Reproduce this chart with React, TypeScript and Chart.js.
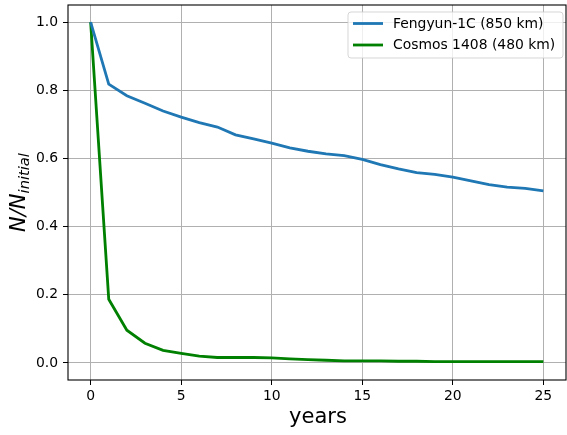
import React, { useEffect, useRef } from "react";
import { Chart, registerables } from "chart.js";

Chart.register(...registerables);

const years = [0, 1, 2, 3, 4, 5, 6, 7, 8, 9, 10, 11, 12, 13, 14, 15, 16, 17, 18, 19, 20, 21, 22, 23, 24, 25];
const fengyun = [1.0, 0.818, 0.784, 0.762, 0.739, 0.721, 0.705, 0.692, 0.669, 0.657, 0.645, 0.631, 0.621, 0.613, 0.608, 0.597, 0.582, 0.569, 0.558, 0.553, 0.545, 0.534, 0.523, 0.516, 0.512, 0.505];
const cosmos = [1.0, 0.187, 0.096, 0.058, 0.037, 0.028, 0.02, 0.016, 0.016, 0.016, 0.015, 0.012, 0.01, 0.008, 0.006, 0.006, 0.006, 0.005, 0.005, 0.004, 0.004, 0.004, 0.004, 0.004, 0.004, 0.004];
const seriesLabels = ["Fengyun-1C (850 km)", "Cosmos 1408 (480 km)"];
const seriesColors = ["#1f77b4", "#008000"];
const xTicks = [0, 5, 10, 15, 20, 25];
const yTicks = [0, 0.2, 0.4, 0.6, 0.8, 1.0];
const xTitle = "years";
const yTitleMain = "N/N";
const yTitleSub = "initial";

const FONT = "'DejaVu Sans', sans-serif";

const framePlugin = {
  id: "frame",
  afterDraw(chart: any) {
    const { ctx, chartArea } = chart;
    const { left, right, top, bottom } = chartArea;
    ctx.save();
    // spines
    ctx.strokeStyle = "#000";
    ctx.lineWidth = 1.1;
    ctx.strokeRect(left, top, right - left, bottom - top);

    // legend
    const lx = 348, ly = 12, lw = 215, lh = 46, r = 3;
    ctx.beginPath();
    ctx.moveTo(lx + r, ly);
    ctx.lineTo(lx + lw - r, ly);
    ctx.quadraticCurveTo(lx + lw, ly, lx + lw, ly + r);
    ctx.lineTo(lx + lw, ly + lh - r);
    ctx.quadraticCurveTo(lx + lw, ly + lh, lx + lw - r, ly + lh);
    ctx.lineTo(lx + r, ly + lh);
    ctx.quadraticCurveTo(lx, ly + lh, lx, ly + lh - r);
    ctx.lineTo(lx, ly + r);
    ctx.quadraticCurveTo(lx, ly, lx + r, ly);
    ctx.closePath();
    ctx.fillStyle = "rgba(255,255,255,0.8)";
    ctx.fill();
    ctx.strokeStyle = "rgba(204,204,204,0.8)";
    ctx.lineWidth = 1;
    ctx.stroke();
    ctx.font = `13.9px ${FONT}`;
    ctx.textBaseline = "middle";
    ctx.textAlign = "left";
    const rows = [23.5, 45];
    chart.data.datasets.forEach((ds: any, i: number) => {
      const y = rows[i];
      ctx.strokeStyle = ds.borderColor;
      ctx.lineWidth = 2.8;
      ctx.beginPath();
      ctx.moveTo(353, y);
      ctx.lineTo(383, y);
      ctx.stroke();
      ctx.fillStyle = "#000";
      ctx.fillText(ds.label, 393, y + 0.5);
    });

    // x title
    ctx.fillStyle = "#000";
    ctx.font = `21px ${FONT}`;
    ctx.textAlign = "center";
    ctx.textBaseline = "alphabetic";
    ctx.fillText(xTitle, (left + right) / 2 + 1, 423);

    // y title (mathtext-like)
    const mainFont = `italic 21px ${FONT}`;
    const subFont = `italic 14.7px ${FONT}`;
    ctx.font = mainFont;
    const w1 = ctx.measureText(yTitleMain).width;
    ctx.font = subFont;
    const w2 = ctx.measureText(yTitleSub).width;
    const total = w1 + w2;
    ctx.translate(25, (top + bottom) / 2);
    ctx.rotate(-Math.PI / 2);
    ctx.textAlign = "left";
    ctx.font = mainFont;
    ctx.fillText(yTitleMain, -total / 2, 0);
    ctx.font = subFont;
    ctx.fillText(yTitleSub, -total / 2 + w1, 4);
    ctx.restore();
  },
};

export default function App() {
  const ref = useRef<HTMLCanvasElement | null>(null);
  useEffect(() => {
    document.body.style.margin = "0";
    const canvas = ref.current;
    if (!canvas) return;
    const chart = new Chart(canvas, {
      type: "line",
      data: {
        datasets: [
          {
            label: seriesLabels[0],
            data: years.map((x, i) => ({ x, y: fengyun[i] })),
            borderColor: seriesColors[0],
            backgroundColor: seriesColors[0],
            borderWidth: 2.8,
            pointRadius: 0,
            tension: 0,
          },
          {
            label: seriesLabels[1],
            data: years.map((x, i) => ({ x, y: cosmos[i] })),
            borderColor: seriesColors[1],
            backgroundColor: seriesColors[1],
            borderWidth: 2.8,
            pointRadius: 0,
            tension: 0,
          },
        ],
      },
      options: {
        responsive: false,
        animation: false,
        layout: { padding: { top: 5, right: 1, left: 0, bottom: 0 } },
        plugins: { legend: { display: false }, tooltip: { enabled: false }, title: { display: false } },
        scales: {
          x: {
            type: "linear",
            min: -1.25,
            max: 26.25,
            afterBuildTicks: (s: any) => {
              s.ticks = xTicks.map((v) => ({ value: v }));
            },
            afterFit: (s: any) => {
              s.height = 55;
              s.paddingLeft = 0;
              s.paddingRight = 0;
            },
            border: { display: false },
            grid: { color: "#b0b0b0", lineWidth: 1, tickColor: "#000", tickLength: 5, drawTicks: true },
            ticks: {
              color: "#000",
              font: { family: FONT, size: 13.9 },
              padding: 3,
              maxRotation: 0,
              autoSkip: false,
              callback: (v: any) => String(v),
            },
          },
          y: {
            type: "linear",
            min: -0.05,
            max: 1.05,
            afterBuildTicks: (s: any) => {
              s.ticks = yTicks.map((v) => ({ value: v }));
            },
            afterFit: (s: any) => {
              s.width = 68;
              s.paddingTop = 0;
              s.paddingBottom = 0;
            },
            border: { display: false },
            grid: { color: "#b0b0b0", lineWidth: 1, tickColor: "#000", tickLength: 5, drawTicks: true },
            ticks: {
              color: "#000",
              font: { family: FONT, size: 13.9 },
              padding: 5,
              autoSkip: false,
              callback: (v: any) => Number(v).toFixed(1),
            },
          },
        },
      },
      plugins: [framePlugin],
    });
    return () => chart.destroy();
  }, []);
  return <canvas ref={ref} width={567} height={435} style={{ display: "block" }} />;
}
